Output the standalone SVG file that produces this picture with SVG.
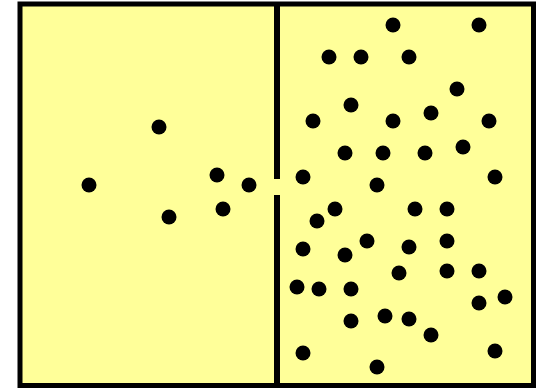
<svg xmlns="http://www.w3.org/2000/svg" width="540" height="388" viewBox="0 0 540 388">
<style>
.box{fill:#ffff99;stroke:#000;stroke-width:5}
.wall{stroke:#000;stroke-width:6}
.p{fill:#000}
</style>
<g id="container">
<rect class="box" x="20" y="4" width="513.5" height="381.5"/>
</g>
<g id="divider">
<line class="wall" x1="277" y1="4" x2="277" y2="179"/>
<line class="wall" x1="277" y1="195" x2="277" y2="385"/>
</g>
<g id="left-particles">
<circle class="p" cx="159" cy="127" r="7.5"/>
<circle class="p" cx="89" cy="185" r="7.5"/>
<circle class="p" cx="217" cy="175" r="7.5"/>
<circle class="p" cx="249" cy="185" r="7.5"/>
<circle class="p" cx="169" cy="217" r="7.5"/>
<circle class="p" cx="223" cy="209" r="7.5"/>
</g>
<g id="right-particles">
<circle class="p" cx="393" cy="25" r="7.5"/>
<circle class="p" cx="479" cy="25" r="7.5"/>
<circle class="p" cx="329" cy="57" r="7.5"/>
<circle class="p" cx="361" cy="57" r="7.5"/>
<circle class="p" cx="409" cy="57" r="7.5"/>
<circle class="p" cx="457" cy="89" r="7.5"/>
<circle class="p" cx="351" cy="105" r="7.5"/>
<circle class="p" cx="313" cy="121" r="7.5"/>
<circle class="p" cx="393" cy="121" r="7.5"/>
<circle class="p" cx="431" cy="113" r="7.5"/>
<circle class="p" cx="489" cy="121" r="7.5"/>
<circle class="p" cx="345" cy="153" r="7.5"/>
<circle class="p" cx="383" cy="153" r="7.5"/>
<circle class="p" cx="425" cy="153" r="7.5"/>
<circle class="p" cx="463" cy="147" r="7.5"/>
<circle class="p" cx="303" cy="177" r="7.5"/>
<circle class="p" cx="377" cy="185" r="7.5"/>
<circle class="p" cx="495" cy="177" r="7.5"/>
<circle class="p" cx="335" cy="209" r="7.5"/>
<circle class="p" cx="317" cy="221" r="7.5"/>
<circle class="p" cx="415" cy="209" r="7.5"/>
<circle class="p" cx="447" cy="209" r="7.5"/>
<circle class="p" cx="303" cy="249" r="7.5"/>
<circle class="p" cx="345" cy="255" r="7.5"/>
<circle class="p" cx="367" cy="241" r="7.5"/>
<circle class="p" cx="409" cy="247" r="7.5"/>
<circle class="p" cx="447" cy="241" r="7.5"/>
<circle class="p" cx="399" cy="273" r="7.5"/>
<circle class="p" cx="447" cy="271" r="7.5"/>
<circle class="p" cx="479" cy="271" r="7.5"/>
<circle class="p" cx="297" cy="287" r="7.5"/>
<circle class="p" cx="319" cy="289" r="7.5"/>
<circle class="p" cx="351" cy="289" r="7.5"/>
<circle class="p" cx="479" cy="303" r="7.5"/>
<circle class="p" cx="505" cy="297" r="7.5"/>
<circle class="p" cx="351" cy="321" r="7.5"/>
<circle class="p" cx="385" cy="316" r="7.5"/>
<circle class="p" cx="409" cy="319" r="7.5"/>
<circle class="p" cx="431" cy="335" r="7.5"/>
<circle class="p" cx="303" cy="353" r="7.5"/>
<circle class="p" cx="377" cy="367" r="7.5"/>
<circle class="p" cx="495" cy="351" r="7.5"/>
</g>
</svg>
